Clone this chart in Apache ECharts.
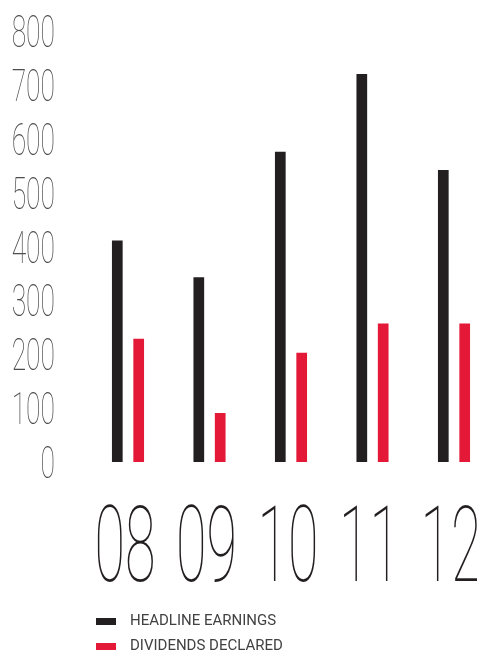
<!DOCTYPE html>
<html>
<head>
<meta charset="utf-8">
<script src="https://cdn.jsdelivr.net/npm/echarts@6/dist/echarts.min.js"></script>
<style>
  html, body { margin: 0; padding: 0; background: #ffffff; }
  #chart { width: 477px; height: 652px; }
</style>
</head>
<body>
<div id="chart"></div>
<script>
// Years shown along the bottom
var years = ['08', '09', '10', '11', '12'];
// Headline earnings per year
var headlineEarnings = [411, 343, 576, 720, 542];
// Dividends declared per year
var dividendsDeclared = [229, 91, 203, 257, 257];
// Value-axis ticks
var yTicks = [0, 100, 200, 300, 400, 500, 600, 700, 800];

var seriesNames = ['HEADLINE EARNINGS', 'DIVIDENDS DECLARED'];
var BLACK = '#231f20';
var RED = '#e31937';
var THIN_FONT = 'Roboto';

var chart = echarts.init(document.getElementById('chart'), null, { renderer: 'canvas' });

chart.setOption({
  animation: false,
  backgroundColor: '#ffffff',
  // first and last year sit on the grid edges
  grid: { left: 128, right: 23, top: 31, height: 431, containLabel: false },
  xAxis: {
    type: 'category',
    data: years,
    boundaryGap: false,
    axisLine: { show: false },
    axisTick: { show: false },
    axisLabel: { show: false },
    splitLine: { show: false }
  },
  yAxis: {
    type: 'value',
    min: 0,
    max: 800,
    interval: 100,
    axisLine: { show: false },
    axisTick: { show: false },
    axisLabel: { show: false },
    splitLine: { show: false }
  },
  legend: {
    orient: 'vertical',
    left: 96,
    top: 614,
    height: 60,
    padding: 0,
    itemWidth: 20,
    itemHeight: 7,
    itemGap: 10,
    icon: 'rect',
    textStyle: {
      fontFamily: 'Roboto',
      fontSize: 15,
      lineHeight: 15,
      color: '#414042',
      padding: [0, 0, 0, 9]
    },
    data: seriesNames
  },
  series: [
    {
      name: seriesNames[0],
      type: 'bar',
      data: headlineEarnings,
      barWidth: 10.7,
      barGap: '100%',
      clip: false,
      itemStyle: { color: BLACK }
    },
    {
      name: seriesNames[1],
      type: 'bar',
      data: dividendsDeclared,
      barWidth: 10.7,
      barGap: '100%',
      clip: false,
      itemStyle: { color: RED }
    }
  ]
});

// Tick labels in a tall, thin condensed style, placed through the axes' own scales
var labels = [];
yTicks.forEach(function (v) {
  var y = chart.convertToPixel({ yAxisIndex: 0 }, v);
  labels.push({
    type: 'text',
    x: 55,
    y: y + 5,
    scaleX: 0.6,
    style: {
      text: String(v),
      fontFamily: THIN_FONT,
      fontWeight: 100,
      fontSize: 44,
      fill: '#4d4d4f',
      align: 'right',
      verticalAlign: 'middle'
    }
  });
});
years.forEach(function (yr) {
  var x = chart.convertToPixel({ xAxisIndex: 0 }, yr);
  labels.push({
    type: 'text',
    x: x - 3,
    y: 555,
    scaleX: 0.53,
    style: {
      text: yr,
      fontFamily: THIN_FONT,
      fontWeight: 100,
      fontSize: 105,
      fill: BLACK,
      align: 'center',
      verticalAlign: 'middle'
    }
  });
});
chart.setOption({ graphic: { elements: labels } });
</script>
</body>
</html>
